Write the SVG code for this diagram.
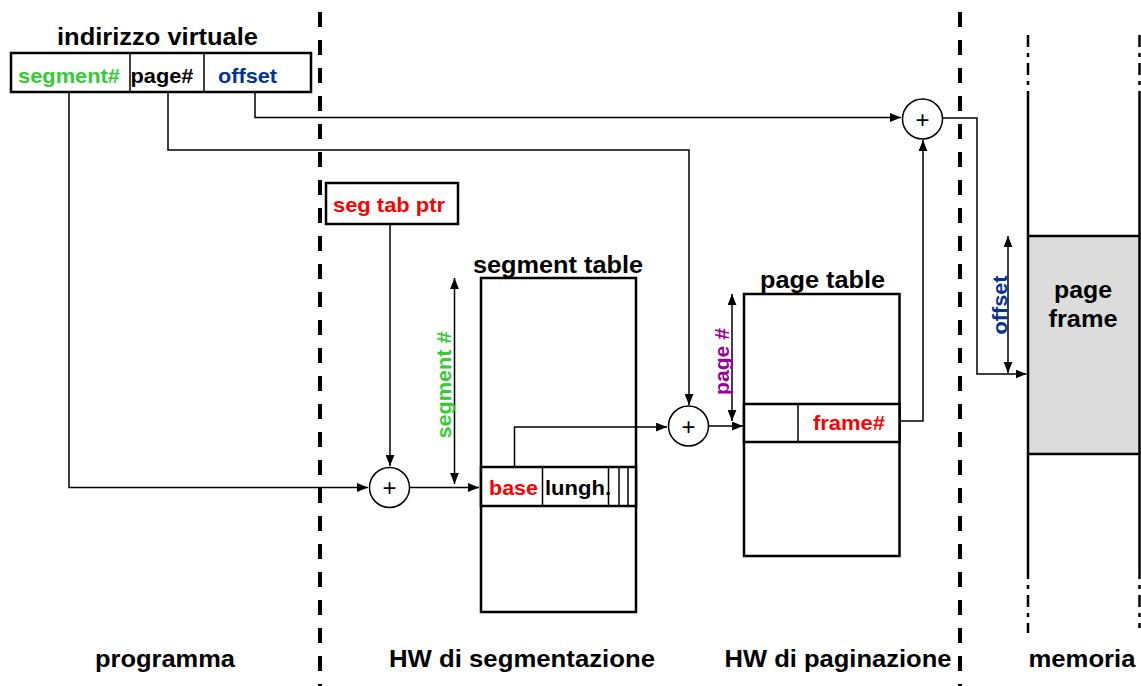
<svg xmlns="http://www.w3.org/2000/svg" width="1141" height="686" viewBox="0 0 1141 686">
  <defs>
    <marker id="arrow" viewBox="0 0 10 8" refX="10" refY="4" markerWidth="11" markerHeight="9" markerUnits="userSpaceOnUse" orient="auto-start-reverse">
      <path d="M0,0 L10,4 L0,8 Z" fill="#000"/>
    </marker>
    <style>
      text { font-family: "Liberation Sans", Arial, sans-serif; font-weight: bold; }
      .head { font-size: 23.5px; fill: #000; }
      .lbl { font-size: 21px; }
      .black { fill: #000; }
      .green { fill: #33cc33; }
      .blue { fill: #003399; }
      .red { fill: #ff0000; }
      .purple { fill: #990099; }
      .box { fill: #fff; stroke: #000; stroke-width: 2.5; }
      .cell { fill: none; stroke: #000; stroke-width: 1.5; }
      .wire { fill: none; stroke: #000; stroke-width: 1.5; }
      .arr { marker-end: url(#arrow); }
      .dbl { marker-start: url(#arrow); marker-end: url(#arrow); }
      .sep { stroke: #000; stroke-width: 4; stroke-dasharray: 15 13; }
      .adder circle { fill: #fff; stroke: #000; stroke-width: 1.5; }
      .adder text { font-weight: normal; font-size: 24px; text-anchor: middle; }
      .mem { stroke: #000; stroke-width: 2.5; fill: none; }
      .memdash { stroke: #000; stroke-width: 2.5; fill: none; stroke-dasharray: 12 6 4 6; }
    </style>
  </defs>

  <!-- zone separators -->
  <g id="separators">
    <line class="sep" x1="320" y1="12" x2="320" y2="686"/>
    <line class="sep" x1="960" y1="12" x2="960" y2="686"/>
  </g>

  <!-- memory column -->
  <g id="memoria">
    <rect x="1028" y="236" width="112" height="218" fill="#dcdcdc" stroke="none"/>
    <line class="mem" x1="1028" y1="95" x2="1028" y2="567"/>
    <line class="mem" x1="1139.5" y1="95" x2="1139.5" y2="567"/>
    <line class="mem" x1="1028" y1="236" x2="1140" y2="236"/>
    <line class="mem" x1="1028" y1="454" x2="1140" y2="454"/>
    <line class="memdash" x1="1028" y1="35" x2="1028" y2="95"/>
    <line class="memdash" x1="1139.5" y1="35" x2="1139.5" y2="95"/>
    <line class="memdash" x1="1028" y1="567" x2="1028" y2="633"/>
    <line class="memdash" x1="1139.5" y1="567" x2="1139.5" y2="628"/>
    <text class="head" x="1083" y="298" text-anchor="middle" textLength="58" lengthAdjust="spacingAndGlyphs">page</text>
    <text class="head" x="1083" y="327" text-anchor="middle" textLength="69" lengthAdjust="spacingAndGlyphs">frame</text>
  </g>

  <!-- virtual address -->
  <g id="indirizzo-virtuale">
    <text class="head" x="157.5" y="44.5" text-anchor="middle" textLength="201" lengthAdjust="spacingAndGlyphs">indirizzo virtuale</text>
    <rect class="box" x="11" y="53" width="300" height="39"/>
    <line class="cell" x1="130" y1="53" x2="130" y2="92"/>
    <line class="cell" x1="204" y1="53" x2="204" y2="92"/>
    <text class="lbl green" x="18" y="82.5" textLength="102" lengthAdjust="spacingAndGlyphs">segment#</text>
    <text class="lbl black" x="130.5" y="82.5" textLength="63" lengthAdjust="spacingAndGlyphs">page#</text>
    <text class="lbl blue" x="218" y="82.5" textLength="59" lengthAdjust="spacingAndGlyphs">offset</text>
  </g>

  <!-- segment table pointer register -->
  <g id="seg-tab-ptr">
    <rect class="box" x="326" y="183" width="132" height="41"/>
    <text class="lbl red" x="333" y="212" textLength="112" lengthAdjust="spacingAndGlyphs">seg tab ptr</text>
  </g>

  <!-- segment table -->
  <g id="segment-table">
    <text class="head" x="558" y="273" text-anchor="middle" textLength="170" lengthAdjust="spacingAndGlyphs">segment table</text>
    <rect class="box" x="481" y="278" width="155" height="334"/>
    <rect class="box" x="481" y="467" width="155" height="39"/>
    <line class="cell" x1="542.5" y1="467" x2="542.5" y2="506"/>
    <line class="cell" x1="608.5" y1="467" x2="608.5" y2="506"/>
    <line class="cell" x1="619" y1="467" x2="619" y2="506"/>
    <line class="cell" x1="628" y1="467" x2="628" y2="506"/>
    <text class="lbl red" x="489" y="495" textLength="49" lengthAdjust="spacingAndGlyphs">base</text>
    <text class="lbl black" x="545" y="495" textLength="66" lengthAdjust="spacingAndGlyphs">lungh.</text>
  </g>

  <!-- page table -->
  <g id="page-table">
    <text class="head" x="822.5" y="288" text-anchor="middle" textLength="125" lengthAdjust="spacingAndGlyphs">page table</text>
    <rect class="box" x="744" y="294" width="155.5" height="262"/>
    <rect class="box" x="744" y="404" width="155.5" height="38"/>
    <line class="cell" x1="798" y1="404" x2="798" y2="442"/>
    <text class="lbl red" x="813" y="430" textLength="72" lengthAdjust="spacingAndGlyphs">frame#</text>
  </g>

  <!-- adders -->
  <g id="adder-seg" class="adder">
    <circle cx="389.5" cy="487.5" r="20"/>
    <text x="389.5" y="496">+</text>
  </g>
  <g id="adder-page" class="adder">
    <circle cx="688.5" cy="426" r="20"/>
    <text x="688.5" y="434.5">+</text>
  </g>
  <g id="adder-phys" class="adder">
    <circle cx="922.5" cy="119" r="20"/>
    <text x="922.5" y="127.5">+</text>
  </g>

  <!-- connectors -->
  <g id="connectors">
    <!-- segment# to segment adder -->
    <polyline class="wire arr" points="69,92 69,487.5 368,487.5"/>
    <!-- seg tab ptr to segment adder -->
    <polyline class="wire arr" points="390,224 390,466"/>
    <!-- segment adder to segment table entry -->
    <polyline class="wire arr" points="409.5,487.5 479,487.5"/>
    <!-- base to page adder -->
    <polyline class="wire arr" points="514.5,467 514.5,427 667,427"/>
    <!-- page# to page adder -->
    <polyline class="wire arr" points="168,92 168,150 689,150 689,405"/>
    <!-- page adder to page table entry -->
    <polyline class="wire arr" points="708.5,426 743,426"/>
    <!-- frame# to physical adder -->
    <polyline class="wire arr" points="899.5,421 923,421 923,140"/>
    <!-- offset to physical adder -->
    <polyline class="wire arr" points="255,92 255,117.5 901,117.5"/>
    <!-- physical address into memory -->
    <polyline class="wire arr" points="942.5,118 977,118 977,374 1026.5,374"/>

    <!-- index ranges -->
    <line class="wire dbl" x1="454.5" y1="278" x2="454.5" y2="484"/>
    <line class="wire dbl" x1="732" y1="294" x2="732" y2="421"/>
    <line class="wire dbl" x1="1008" y1="236" x2="1008" y2="373"/>
  </g>

  <!-- range labels -->
  <g id="range-labels">
    <text class="lbl green" transform="translate(451,385) rotate(-90)" text-anchor="middle" textLength="107" lengthAdjust="spacingAndGlyphs">segment #</text>
    <text class="lbl purple" transform="translate(729,361.5) rotate(-90)" text-anchor="middle" textLength="67" lengthAdjust="spacingAndGlyphs">page #</text>
    <text class="lbl blue" transform="translate(1007,305) rotate(-90)" text-anchor="middle" textLength="59" lengthAdjust="spacingAndGlyphs">offset</text>
  </g>

  <!-- zone captions -->
  <g id="captions">
    <text class="head" x="165" y="667" text-anchor="middle" textLength="140" lengthAdjust="spacingAndGlyphs">programma</text>
    <text class="head" x="522" y="667" text-anchor="middle" textLength="266" lengthAdjust="spacingAndGlyphs">HW di segmentazione</text>
    <text class="head" x="838" y="667" text-anchor="middle" textLength="227" lengthAdjust="spacingAndGlyphs">HW di paginazione</text>
    <text class="head" x="1082" y="667" text-anchor="middle" textLength="107" lengthAdjust="spacingAndGlyphs">memoria</text>
  </g>
</svg>
